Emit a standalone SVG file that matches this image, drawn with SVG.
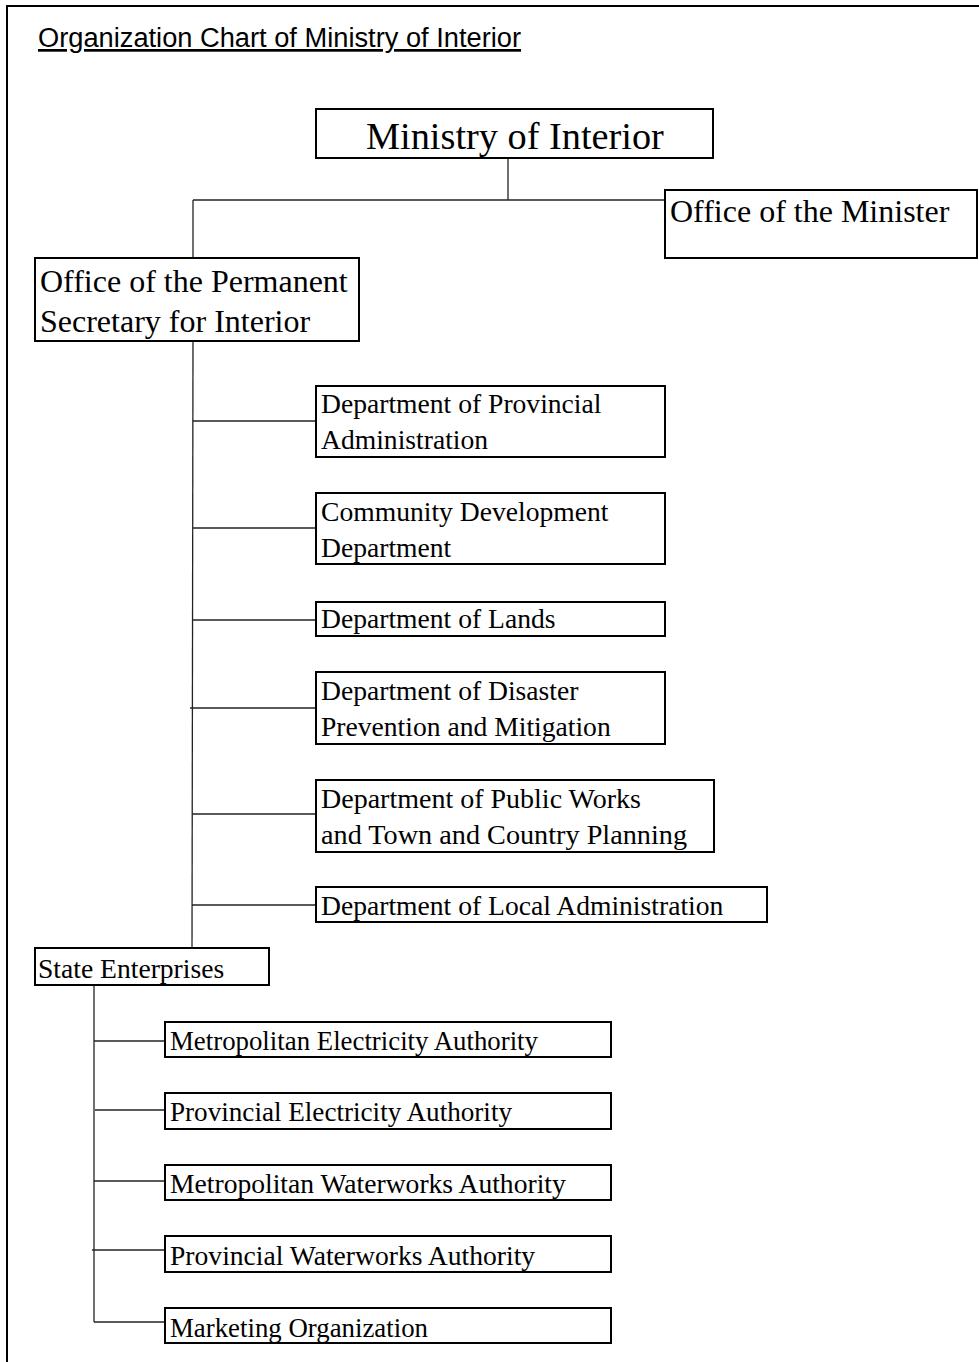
<svg xmlns="http://www.w3.org/2000/svg" width="979" height="1362" viewBox="0 0 979 1362">
<style>
.box{fill:#fff;stroke:#000;stroke-width:2}
.t{font-family:"Liberation Serif","Times New Roman",serif;fill:#000}
.d{font-size:27.6px}
.o{font-size:32px}
.c line{stroke:#222;stroke-width:1.3}
</style>
<rect width="979" height="1362" fill="#fff"/>
<path d="M7,1362 V6 H979" fill="none" stroke="#000" stroke-width="2"/>
<text x="38" y="47" font-family="'Liberation Sans',Arial,sans-serif" font-size="27" text-decoration="underline" textLength="483" lengthAdjust="spacingAndGlyphs">Organization Chart of Ministry of Interior</text>
<g id="connectors" class="c">
<line x1="508" y1="158" x2="508" y2="200"/>
<line x1="193" y1="200" x2="665" y2="200"/>
<line x1="193" y1="200" x2="193" y2="258"/>
<line x1="193" y1="341" x2="192" y2="948"/>
<line x1="193" y1="421" x2="316" y2="421"/>
<line x1="193" y1="528" x2="316" y2="528"/>
<line x1="193" y1="620" x2="316" y2="620"/>
<line x1="190" y1="708" x2="316" y2="708"/>
<line x1="192" y1="814" x2="316" y2="814"/>
<line x1="192" y1="905" x2="316" y2="905"/>
<line x1="94" y1="985" x2="94" y2="1322"/>
<line x1="94" y1="1041" x2="165" y2="1041"/>
<line x1="95" y1="1110" x2="165" y2="1110"/>
<line x1="94" y1="1181" x2="165" y2="1181"/>
<line x1="92" y1="1250" x2="165" y2="1250"/>
<line x1="94" y1="1322" x2="165" y2="1322"/>
</g>
<g id="ministry"><rect class="box" x="316" y="109" width="397" height="49"/><text class="t" x="366" y="149" font-size="38.3">Ministry of Interior</text></g>
<g id="office-minister"><rect class="box" x="665" y="190" width="312" height="68"/><text class="t o" x="670" y="222">Office of the Minister</text></g>
<g id="permanent-secretary"><rect class="box" x="35" y="258" width="324" height="83"/><text class="t o" x="40" y="292">Office of the Permanent</text><text class="t o" x="40" y="332">Secretary for Interior</text></g>
<g id="provincial-admin"><rect class="box" x="316" y="386" width="349" height="71"/><text class="t d" x="321" y="413">Department of Provincial</text><text class="t d" x="321" y="449">Administration</text></g>
<g id="community-dev"><rect class="box" x="316" y="493" width="349" height="71"/><text class="t d" x="321" y="521">Community Development</text><text class="t d" x="321" y="557">Department</text></g>
<g id="lands"><rect class="box" x="316" y="602" width="349" height="34"/><text class="t d" x="321" y="628">Department of Lands</text></g>
<g id="disaster"><rect class="box" x="316" y="672" width="349" height="72"/><text class="t d" x="321" y="700">Department of Disaster</text><text class="t d" x="321" y="736">Prevention and Mitigation</text></g>
<g id="public-works"><rect class="box" x="316" y="780" width="398" height="72"/><text class="t d" x="321" y="808" textLength="320" lengthAdjust="spacingAndGlyphs">Department of Public Works</text><text class="t d" x="321" y="844" textLength="366" lengthAdjust="spacingAndGlyphs">and Town and Country Planning</text></g>
<g id="local-admin"><rect class="box" x="316" y="887" width="451" height="35"/><text class="t d" x="321" y="915">Department of Local Administration</text></g>
<g id="state-enterprises"><rect class="box" x="35" y="948" width="234" height="37"/><text class="t d" x="38" y="978">State Enterprises</text></g>
<g id="mea"><rect class="box" x="165" y="1022" width="446" height="35"/><text class="t d" x="170" y="1050" textLength="368" lengthAdjust="spacingAndGlyphs">Metropolitan Electricity Authority</text></g>
<g id="pea"><rect class="box" x="165" y="1093" width="446" height="36"/><text class="t d" x="170" y="1121" textLength="342" lengthAdjust="spacingAndGlyphs">Provincial Electricity Authority</text></g>
<g id="mwa"><rect class="box" x="165" y="1165" width="446" height="35"/><text class="t d" x="170" y="1193">Metropolitan Waterworks Authority</text></g>
<g id="pwa"><rect class="box" x="165" y="1236" width="446" height="36"/><text class="t d" x="170" y="1265">Provincial Waterworks Authority</text></g>
<g id="marketing"><rect class="box" x="165" y="1308" width="446" height="35"/><text class="t d" x="170" y="1337" textLength="258" lengthAdjust="spacingAndGlyphs">Marketing Organization</text></g>
</svg>
